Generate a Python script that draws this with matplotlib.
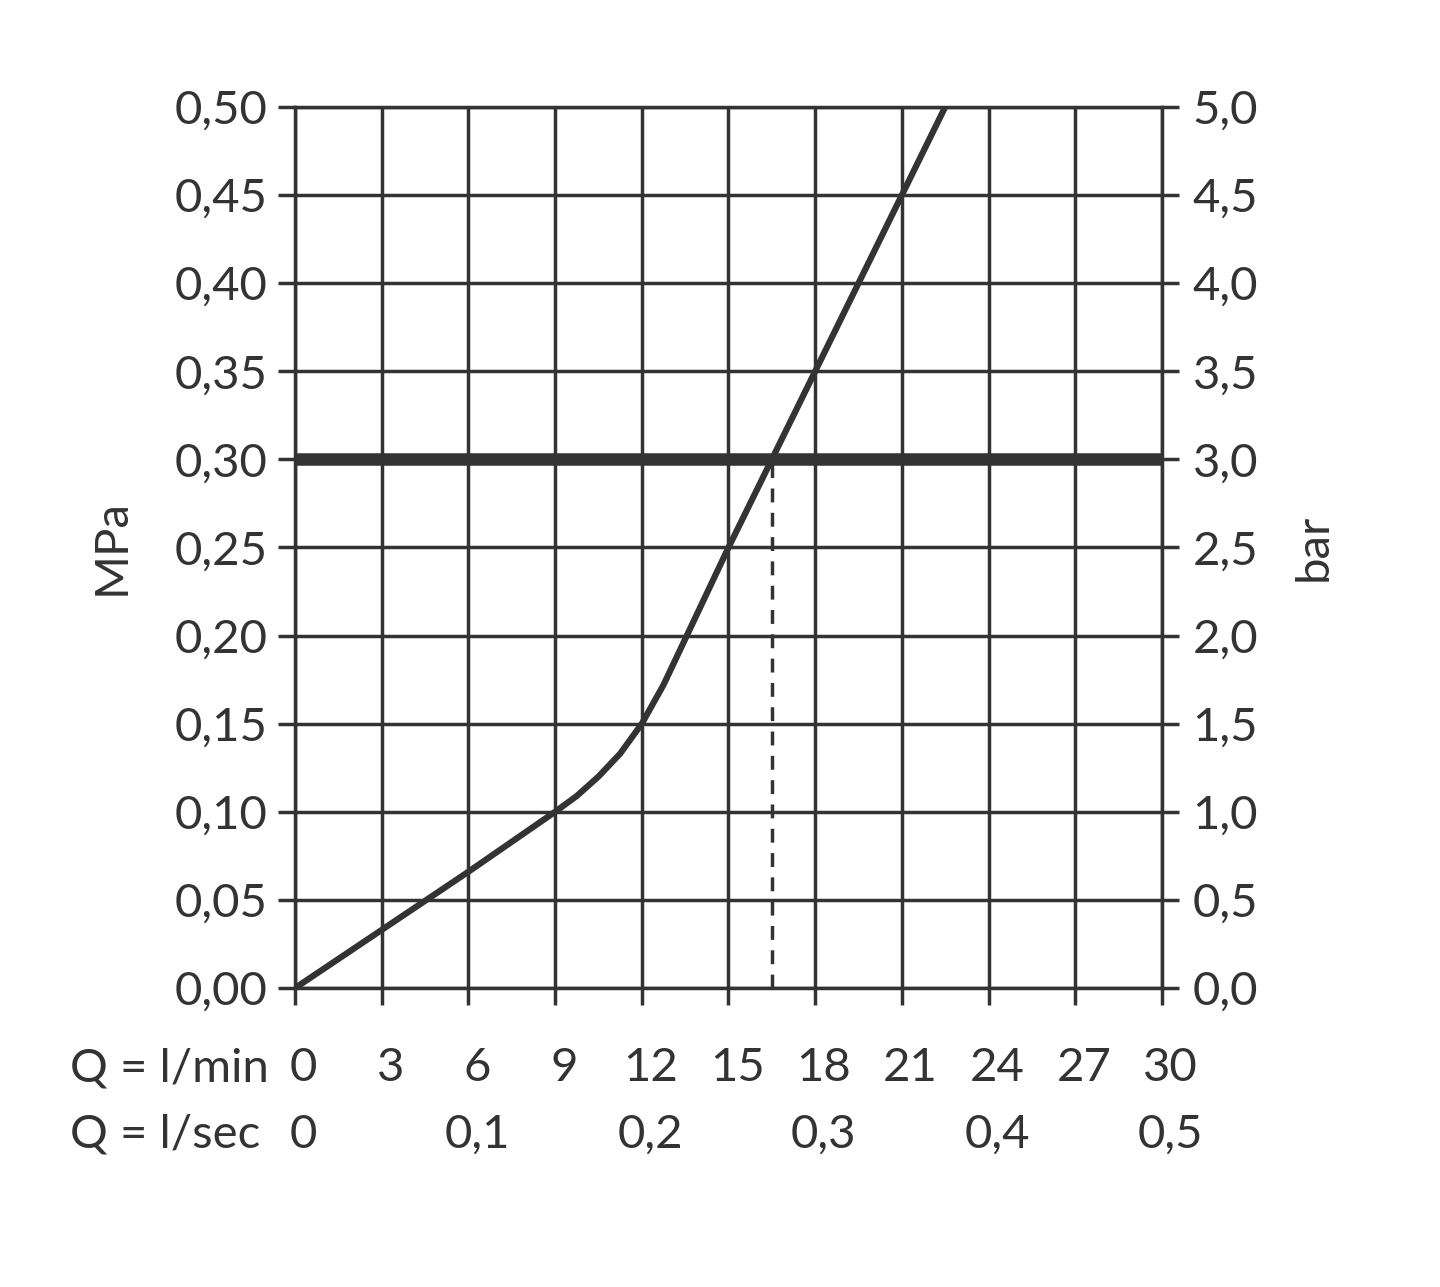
import matplotlib
matplotlib.use("Agg")
import matplotlib.pyplot as plt
import matplotlib.transforms as mtransforms

# data
flow_lpm = [0, 3, 6, 9, 9.75, 10.5, 11.25, 12, 12.75, 13.5, 15, 16.5, 18, 19.5, 21, 22.5]
press_mpa = [0, 0.033, 0.066, 0.100, 0.109, 0.120, 0.133, 0.150, 0.172, 0.198,
             0.250, 0.300, 0.350, 0.400, 0.450, 0.500]
lpm_ticks = [0, 3, 6, 9, 12, 15, 18, 21, 24, 27, 30]
lps_ticks = [0, 0.1, 0.2, 0.3, 0.4, 0.5]
mpa_ticks = [0, 0.05, 0.10, 0.15, 0.20, 0.25, 0.30, 0.35, 0.40, 0.45, 0.50]
nominal_mpa = 0.30
nominal_lpm = 16.5

c = "#333333"
plt.rcParams["font.family"] = ["Lato", "DejaVu Sans"]
fig = plt.figure(figsize=(14.4, 12.87), dpi=100)
ax = fig.add_axes([0.2049, 0.2323, 0.602, 0.6846])
ax.set_xlim(0, 30)
ax.set_ylim(0, 0.5)

for x in lpm_ticks:
    ax.axvline(x, color=c, lw=2.5, zorder=1)
for y in mpa_ticks:
    ax.axhline(y, color=c, lw=2.5, zorder=1)
ax.axhline(nominal_mpa, color=c, lw=9, zorder=2)
ax.plot([nominal_lpm, nominal_lpm], [0, nominal_mpa], color=c, lw=2.5,
        ls=(0, (4, 3)), zorder=2)
ax.plot(flow_lpm, press_mpa, color=c, lw=4.5, zorder=3, solid_capstyle="butt",
        solid_joinstyle="round")

for s in ax.spines.values():
    s.set_color(c)
    s.set_linewidth(2.5)

fmt = lambda v, d: f"{v:.{d}f}".replace(".", ",")
ax.set_xticks(lpm_ticks)
ax.set_xticklabels([])
ax.set_yticks(mpa_ticks)
ax.set_yticklabels([fmt(v, 2) for v in mpa_ticks], fontsize=34, color=c)
ax.tick_params(axis="both", direction="out", length=12, width=2.5, color=c, pad=8)
ax.set_ylabel("MPa", fontsize=34, color=c, labelpad=30)

ax2 = ax.twinx()
ax2.set_ylim(0, 5)
ax2.set_yticks([v * 10 for v in mpa_ticks])
ax2.set_yticklabels([fmt(v * 10, 1) for v in mpa_ticks], fontsize=34, color=c)
ax2.tick_params(axis="y", direction="out", length=12, width=2.5, color=c, pad=10)
ax2.set_ylabel("bar", fontsize=34, color=c, labelpad=25)
for s in ax2.spines.values():
    s.set_visible(False)

tr = mtransforms.blended_transform_factory(ax.transData, fig.transFigure)
for x in lpm_ticks:
    ax.text(x + 0.3, 1 - 1068 / 1287, str(x), transform=tr, ha="center",
            va="center", fontsize=34, color=c)
for v in lps_ticks:
    ax.text(v * 60 + 0.3, 1 - 1135 / 1287, "0" if v == 0 else fmt(v, 1),
            transform=tr, ha="center", va="center", fontsize=34, color=c)
fig.text(70 / 1440, 1 - 1068 / 1287, "Q = l/min", ha="left", va="center",
         fontsize=34, color=c)
fig.text(70 / 1440, 1 - 1135 / 1287, "Q = l/sec", ha="left", va="center",
         fontsize=34, color=c)

fig.savefig("out.png", dpi=100, facecolor="white")
